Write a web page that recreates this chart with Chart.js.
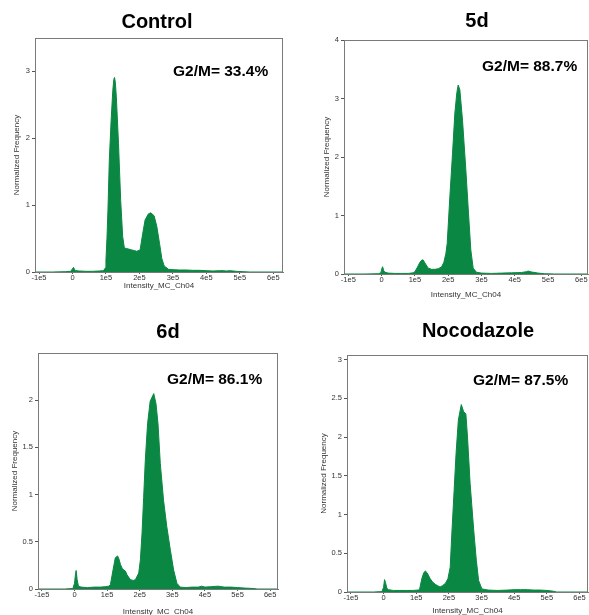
<!DOCTYPE html>
<html>
<head>
<meta charset="utf-8">
<script src="https://cdn.jsdelivr.net/npm/chart.js@4"></script>
<style>
  html, body { margin: 0; padding: 0; background: #ffffff; }
  body { width: 589px; height: 615px; position: relative; overflow: hidden; }
  .panel { position: absolute; }
</style>
</head>
<body>
<div class="panel" id="p0" style="left:0px;top:0px;width:295px;height:305px;"><canvas id="c0"></canvas></div>
<div class="panel" id="p1" style="left:295px;top:0px;width:294px;height:305px;"><canvas id="c1"></canvas></div>
<div class="panel" id="p2" style="left:0px;top:310px;width:295px;height:310px;"><canvas id="c2"></canvas></div>
<div class="panel" id="p3" style="left:295px;top:310px;width:294px;height:310px;"><canvas id="c3"></canvas></div>
<script>
// ---------------- DATA ----------------
const panelTitles = ['Control', '5d', '6d', 'Nocodazole'];
const g2mLabels = ['G2/M= 33.4%', 'G2/M= 88.7%', 'G2/M= 86.1%', 'G2/M= 87.5%'];
const xAxisTitle = 'Intensity_MC_Ch04';
const yAxisTitle = 'Normalized Frequency';

// x tick values (units of 1e5) and their labels
const xTickValues = [-1, 0, 1, 2, 3, 4, 5, 6];
const xTickLabels = ['-1e5', '0', '1e5', '2e5', '3e5', '4e5', '5e5', '6e5'];

// y tick values per panel
const yTicksControl = [0, 1, 2, 3];
const yTicks5d = [0, 1, 2, 3, 4];
const yTicks6d = [0, 0.5, 1, 1.5, 2];
const yTicksNoco = [0, 0.5, 1, 1.5, 2, 2.5, 3];

// Control histogram (x in 1e5 units, normalized frequency)
const controlX = [-1.12,-0.6,-0.2,-0.05,0.0,0.03,0.06,0.1,0.2,0.4,0.6,0.8,0.9,0.95,0.98,1.0,1.03,1.06,1.10,1.155,1.205,1.235,1.255,1.28,1.31,1.375,1.44,1.50,1.55,1.62,1.70,1.77,1.85,1.92,2.02,2.10,2.17,2.27,2.34,2.44,2.52,2.60,2.67,2.74,2.87,3.0,3.2,3.4,3.6,3.8,4.0,4.2,4.4,4.5,4.6,4.7,4.9,5.1,5.3,6.29];
const controlY = [0,0,0.005,0.01,0.05,0.07,0.04,0.02,0.015,0.01,0.01,0.015,0.02,0.03,0.06,0.18,0.5,0.93,1.67,2.27,2.72,2.88,2.91,2.84,2.62,1.92,1.07,0.53,0.36,0.35,0.34,0.33,0.32,0.31,0.33,0.58,0.78,0.87,0.885,0.84,0.68,0.43,0.20,0.09,0.04,0.035,0.03,0.03,0.025,0.025,0.02,0.015,0.02,0.02,0.015,0.02,0.01,0.005,0,0];

// 5d histogram
const d5X = [-1.13,-0.5,-0.1,-0.02,0.0,0.03,0.06,0.1,0.2,0.4,0.6,0.8,0.95,1.0,1.08,1.15,1.21,1.25,1.30,1.40,1.50,1.60,1.70,1.80,1.87,1.93,1.97,2.05,2.13,2.20,2.26,2.30,2.35,2.43,2.53,2.61,2.68,2.75,2.85,3.0,3.3,3.6,3.9,4.2,4.35,4.4,4.5,4.7,4.9,5.2,6.2];
const d5Y = [0,0,0.005,0.02,0.08,0.125,0.06,0.03,0.015,0.01,0.01,0.01,0.02,0.04,0.12,0.2,0.24,0.24,0.19,0.10,0.08,0.08,0.09,0.12,0.2,0.35,0.52,1.32,2.06,2.75,3.1,3.23,3.15,2.63,1.78,1.04,0.41,0.10,0.03,0.015,0.01,0.015,0.02,0.025,0.04,0.05,0.035,0.015,0.005,0,0];

// 6d histogram
const d6X = [-1.12,-0.3,-0.05,0.0,0.03,0.05,0.08,0.12,0.2,0.4,0.6,0.8,0.95,1.05,1.10,1.18,1.25,1.32,1.36,1.41,1.46,1.51,1.56,1.61,1.71,1.80,1.87,1.97,2.02,2.07,2.12,2.17,2.24,2.32,2.43,2.50,2.56,2.63,2.73,2.83,2.94,3.04,3.14,3.24,3.4,3.6,3.8,3.9,4.0,4.2,4.4,4.5,4.6,4.8,5.0,5.2,5.5,5.6,6.24];
const d6Y = [0,0,0.005,0.06,0.16,0.196,0.1,0.03,0.02,0.015,0.02,0.02,0.025,0.03,0.045,0.20,0.33,0.35,0.32,0.26,0.22,0.20,0.19,0.15,0.10,0.09,0.10,0.17,0.31,0.59,0.97,1.36,1.75,1.99,2.07,1.96,1.75,1.33,0.94,0.66,0.41,0.20,0.06,0.02,0.015,0.02,0.02,0.03,0.02,0.025,0.03,0.025,0.02,0.02,0.015,0.01,0.005,0,0];

// Nocodazole histogram
const nocoX = [-1.12,-0.3,-0.05,0.0,0.03,0.06,0.1,0.15,0.3,0.5,0.7,0.9,1.05,1.10,1.17,1.23,1.28,1.33,1.43,1.50,1.58,1.66,1.73,1.80,1.89,1.97,2.04,2.09,2.16,2.22,2.29,2.38,2.45,2.52,2.57,2.65,2.76,2.84,2.91,3.01,3.2,3.5,3.8,4.0,4.2,4.4,4.6,4.8,5.0,5.2,5.3,6.26];
const nocoY = [0,0,0.005,0.06,0.16,0.12,0.05,0.03,0.02,0.02,0.02,0.02,0.025,0.03,0.17,0.25,0.27,0.25,0.17,0.13,0.10,0.08,0.065,0.08,0.11,0.17,0.32,0.75,1.31,1.79,2.22,2.42,2.33,2.30,2.0,1.40,0.80,0.41,0.15,0.04,0.025,0.02,0.025,0.03,0.03,0.03,0.025,0.025,0.02,0.01,0,0];

// ---------------- LAYOUT / STYLE ----------------
const GREEN = '#0a8742';
const FONT = '"Liberation Sans", Arial, sans-serif';

const layouts = [
  { canvas: 'c0', xs: controlX, ys: controlY, yTicks: yTicksControl, xMin: -1.12, xMax: 6.29, yMax: 3.5,
    pad: {left: 12, top: 38, right: 12, bottom: 14}, yW: 23, xH: 19,
    titlePos: [157, 22], annPos: [173, 72] },
  { canvas: 'c1', xs: d5X, ys: d5Y, yTicks: yTicks5d, xMin: -1.13, xMax: 6.2, yMax: 4,
    pad: {left: 27, top: 40, right: 1, bottom: 5}, yW: 22, xH: 26,
    titlePos: [182, 21], annPos: [187, 67] },
  { canvas: 'c2', xs: d6X, ys: d6Y, yTicks: yTicks6d, xMin: -1.12, xMax: 6.24, yMax: 2.5,
    pad: {left: 10, top: 43, right: 17, bottom: 3}, yW: 28, xH: 28,
    titlePos: [168, 22], annPos: [167, 70] },
  { canvas: 'c3', xs: nocoX, ys: nocoY, yTicks: yTicksNoco, xMin: -1.12, xMax: 6.26, yMax: 3.06,
    pad: {left: 24, top: 45, right: 1, bottom: 4}, yW: 28, xH: 24,
    titlePos: [183, 21], annPos: [178, 71] }
];

const framePlugin = {
  id: 'frameAndText',
  afterDraw(chart, args, opts) {
    const ctx = chart.ctx;
    const a = chart.chartArea;
    ctx.save();
    ctx.strokeStyle = '#7a7a7a';
    ctx.lineWidth = 1;
    ctx.strokeRect(Math.round(a.left) + 0.5, Math.round(a.top) + 0.5,
                   Math.round(a.right - a.left) - 1, Math.round(a.bottom - a.top));
    ctx.fillStyle = '#000';
    ctx.textBaseline = 'middle';
    ctx.textAlign = 'center';
    ctx.font = 'bold 20px ' + FONT;
    ctx.fillText(opts.title, opts.titlePos[0], opts.titlePos[1]);
    ctx.textAlign = 'left';
    ctx.font = 'bold 15.5px ' + FONT;
    ctx.fillText(opts.ann, opts.annPos[0], opts.annPos[1]);
    ctx.restore();
  }
};

layouts.forEach((L, i) => {
  const pts = L.xs.map((x, k) => ({x: x, y: L.ys[k]}));
  new Chart(document.getElementById(L.canvas), {
    type: 'line',
    data: {
      datasets: [{
        data: pts,
        borderColor: GREEN,
        backgroundColor: GREEN,
        borderWidth: 1,
        fill: 'origin',
        pointRadius: 0,
        tension: 0
      }]
    },
    plugins: [framePlugin],
    options: {
      responsive: true,
      maintainAspectRatio: false,
      animation: false,
      devicePixelRatio: 1,
      layout: { padding: L.pad },
      plugins: {
        legend: { display: false },
        tooltip: { enabled: false },
        title: { display: false },
        frameAndText: { title: panelTitles[i], ann: g2mLabels[i], titlePos: L.titlePos, annPos: L.annPos }
      },
      scales: {
        x: {
          type: 'linear',
          min: L.xMin,
          max: L.xMax,
          afterBuildTicks: (s) => { s.ticks = xTickValues.map(v => ({value: v})); },
          afterFit: (s) => { s.height = L.xH; },
          grid: { display: true, drawOnChartArea: false, drawTicks: true, tickLength: 2, color: '#555' },
          border: { display: true, color: '#7a7a7a' },
          ticks: {
            autoSkip: false, maxRotation: 0, padding: -1,
            color: '#333', font: { family: FONT, size: 7.5 },
            callback: (v) => { const k = xTickValues.indexOf(v); return k >= 0 ? xTickLabels[k] : ''; }
          },
          title: { display: true, text: xAxisTitle, color: '#333', font: { family: FONT, size: 8 }, padding: 0 }
        },
        y: {
          type: 'linear',
          min: 0,
          max: L.yMax,
          afterBuildTicks: (s) => { s.ticks = L.yTicks.map(v => ({value: v})); },
          afterFit: (s) => { s.width = L.yW; },
          grid: { display: true, drawOnChartArea: false, drawTicks: true, tickLength: 3, color: '#555' },
          border: { display: true, color: '#7a7a7a' },
          ticks: {
            autoSkip: false, padding: 2,
            color: '#333', font: { family: FONT, size: 7.5 },
            callback: (v) => String(v)
          },
          title: { display: true, text: yAxisTitle, color: '#333', font: { family: FONT, size: 8 }, padding: 0 }
        }
      }
    }
  });
});
</script>
</body>
</html>
